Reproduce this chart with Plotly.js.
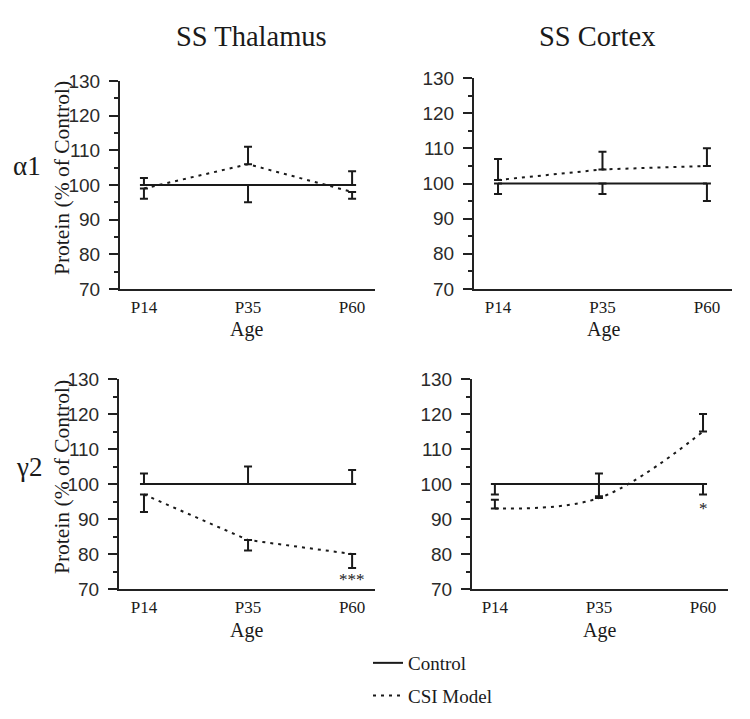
<!DOCTYPE html>
<html><head><meta charset="utf-8">
<script src="https://cdn.plot.ly/plotly-3.0.1.min.js"></script>
<style>html,body{margin:0;padding:0;background:#fff}</style>
</head><body><div id="chart" style="width:750px;height:719px"></div>
<script>
// ---- data ----
const ages = ['P14', 'P35', 'P60'];
const seriesNames = ['Control', 'CSI Model'];
const yTicks = [70, 80, 90, 100, 110, 120, 130];

// SS Thalamus, alpha1
const thalA1Control = [100, 100, 100];
const thalA1ControlErrUp = [2, 0, 4];
const thalA1ControlErrDown = [0, 5, 0];
const thalA1CSI = [99, 106, 98];
const thalA1CSIErrUp = [0, 5, 0];
const thalA1CSIErrDown = [3, 0, 2];

// SS Cortex, alpha1
const cortA1Control = [100, 100, 100];
const cortA1ControlErrUp = [0, 0, 0];
const cortA1ControlErrDown = [3, 3, 5];
const cortA1CSI = [101, 104, 105];
const cortA1CSIErrUp = [6, 5, 5];
const cortA1CSIErrDown = [0, 0, 0];

// SS Thalamus, gamma2
const thalG2Control = [100, 100, 100];
const thalG2ControlErrUp = [3, 5, 4];
const thalG2ControlErrDown = [0, 0, 0];
const thalG2CSI = [97, 84, 80];
const thalG2CSIErrUp = [0, 0, 0];
const thalG2CSIErrDown = [5, 3, 4];

// SS Cortex, gamma2
const cortG2Control = [100, 100, 100];
const cortG2ControlErrUp = [0, 3, 0];
const cortG2ControlErrDown = [3, 3.5, 3];
const cortG2CSI = [93, 96, 115];
const cortG2CSIErrUp = [2.5, 0, 5];
const cortG2CSIErrDown = [0, 0, 0];

// significance markers
const sigThalG2 = {age: 'P60', y: 72.6, text: '***'};
const sigCortG2 = {age: 'P60', y: 93, text: '*'};

// ---- helpers ----
const W = 750, H = 719;
const px = v => v / W;
const py = v => 1 - v / H;
const SERIF = 'Liberation Serif, Times New Roman, serif';
const SANS = 'Liberation Sans, Arial, sans-serif';
const INK = '#1a1a1a';

function ctrlTrace(y, up, down, xa, ya, show) {
  return {
    type: 'scatter', mode: 'lines', x: ages, y: y, xaxis: xa, yaxis: ya,
    name: seriesNames[0], legendgroup: 'ctrl', showlegend: show,
    line: {color: INK, width: 2},
    error_y: {type: 'data', symmetric: false, array: up, arrayminus: down,
              color: INK, thickness: 2, width: 4},
    hoverinfo: 'x+y'
  };
}
function csiTrace(y, up, down, xa, ya, show, shape) {
  return {
    type: 'scatter', mode: 'lines', x: ages, y: y, xaxis: xa, yaxis: ya,
    name: seriesNames[1], legendgroup: 'csi', showlegend: show,
    line: {color: INK, width: 2, dash: '3px,5px', shape: shape || 'linear', smoothing: 1},
    error_y: {type: 'data', symmetric: false, array: up, arrayminus: down,
              color: INK, thickness: 2, width: 4},
    hoverinfo: 'x+y'
  };
}

const traces = [
  ctrlTrace(thalA1Control, thalA1ControlErrUp, thalA1ControlErrDown, 'x', 'y', true),
  csiTrace(thalA1CSI, thalA1CSIErrUp, thalA1CSIErrDown, 'x', 'y', true),
  ctrlTrace(cortA1Control, cortA1ControlErrUp, cortA1ControlErrDown, 'x2', 'y2', false),
  csiTrace(cortA1CSI, cortA1CSIErrUp, cortA1CSIErrDown, 'x2', 'y2', false),
  ctrlTrace(thalG2Control, thalG2ControlErrUp, thalG2ControlErrDown, 'x3', 'y3', false),
  csiTrace(thalG2CSI, thalG2CSIErrUp, thalG2CSIErrDown, 'x3', 'y3', false),
  ctrlTrace(cortG2Control, cortG2ControlErrUp, cortG2ControlErrDown, 'x4', 'y4', false),
  csiTrace(cortG2CSI, cortG2CSIErrUp, cortG2CSIErrDown, 'x4', 'y4', false, 'spline')
];

function xAxis(l, r, range, anchor) {
  return {
    domain: [px(l), px(r)], anchor: anchor, type: 'category',
    range: range, showgrid: false, zeroline: false, fixedrange: true,
    showline: true, linecolor: '#222', linewidth: 2, ticks: '',
    tickvals: ages, ticktext: ages, ticklabelstandoff: 2,
    tickfont: {family: SERIF, size: 17, color: INK}
  };
}
function yAxis(t, b, anchor) {
  return {
    domain: [py(b), py(t)], anchor: anchor, range: [70, 130],
    showgrid: false, zeroline: false, fixedrange: true,
    showline: true, linecolor: '#222', linewidth: 2,
    tickmode: 'array', tickvals: yTicks,
    ticks: 'outside', ticklen: 9, tickwidth: 2, tickcolor: '#222',
    ticklabelstandoff: 5,
    minor: {tickmode: 'linear', tick0: 70, dtick: 5, ticks: 'outside', ticklen: 4, tickwidth: 1.5, tickcolor: '#222', showgrid: false},
    tickfont: {family: SANS, size: 19, color: '#2a2a2a'}
  };
}

function ann(text, x, y, size, extra) {
  return Object.assign({
    text: text, xref: 'paper', yref: 'paper', x: px(x), y: py(y),
    xanchor: 'center', yanchor: 'middle', showarrow: false,
    font: {family: SERIF, size: size, color: INK}
  }, extra || {});
}

const layout = {
  width: W, height: H,
  margin: {l: 0, r: 0, t: 0, b: 0},
  paper_bgcolor: '#fff', plot_bgcolor: '#fff',
  showlegend: true,
  legend: {
    x: px(368), y: py(644), xanchor: 'left', yanchor: 'top',
    traceorder: 'grouped', tracegroupgap: 5,
    font: {family: SERIF, size: 19, color: INK},
    bgcolor: 'rgba(0,0,0,0)'
  },
  xaxis: xAxis(120, 375, [-0.23, 2.22], 'y'),
  yaxis: yAxis(81, 289, 'x'),
  xaxis2: xAxis(474, 732, [-0.23, 2.24], 'y2'),
  yaxis2: yAxis(78, 289, 'x2'),
  xaxis3: xAxis(119, 375, [-0.24, 2.22], 'y3'),
  yaxis3: yAxis(379, 589, 'x3'),
  xaxis4: xAxis(472, 728, [-0.22, 2.24], 'y4'),
  yaxis4: yAxis(379, 589, 'x4'),
  annotations: [
    ann('SS Thalamus', 251, 36, 28.5),
    ann('SS Cortex', 597, 36, 28.5),
    ann('α1', 27, 166, 27),
    ann('γ2', 29, 467, 27),
    ann('Protein (% of Control)', 62, 178, 21.5, {textangle: -90}),
    ann('Protein (% of Control)', 62, 477, 21.5, {textangle: -90}),
    ann('Age', 247, 330, 20),
    ann('Age', 603, 330, 20),
    ann('Age', 247, 630, 20),
    ann('Age', 599, 630, 20),
    {text: sigThalG2.text, xref: 'x3', yref: 'y3', x: sigThalG2.age, y: sigThalG2.y,
     showarrow: false, xanchor: 'center', yanchor: 'middle',
     font: {family: SERIF, size: 17, color: INK}},
    {text: sigCortG2.text, xref: 'x4', yref: 'y4', x: sigCortG2.age, y: sigCortG2.y,
     showarrow: false, xanchor: 'center', yanchor: 'middle',
     font: {family: SERIF, size: 17, color: INK}}
  ]
};

Plotly.newPlot('chart', traces, layout, {displayModeBar: false});
</script>
</body></html>
